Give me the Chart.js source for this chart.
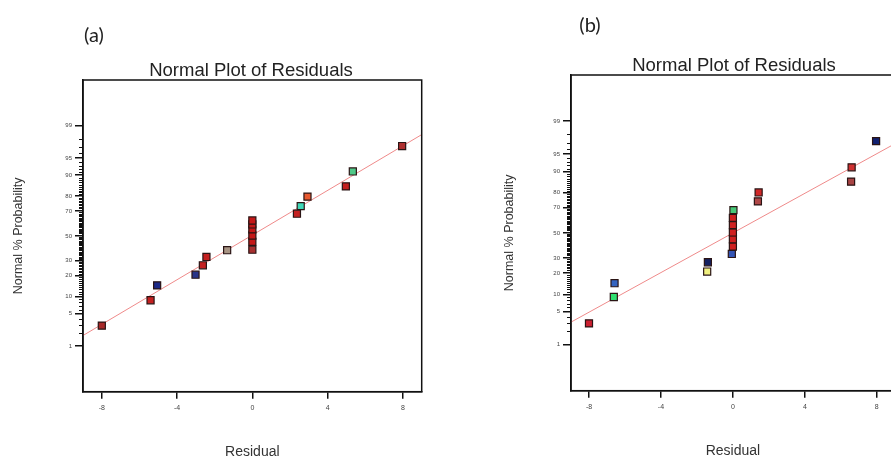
<!DOCTYPE html>
<html>
<head>
<meta charset="utf-8">
<script src="https://cdn.jsdelivr.net/npm/chart.js@4.4.1/dist/chart.umd.min.js"></script>
<style>
html, body { margin: 0; padding: 0; background: #fff; }
#page { position: relative; width: 891px; height: 459px; overflow: hidden; background: #fff; }
canvas { position: absolute; top: 0; }
#cA { left: 0; }
#cB { left: 450px; }
.lbl { position: absolute; transform: translate(-50%, -50%); white-space: nowrap; color: #222; }
.panel { font-family: Lato, 'Liberation Sans', sans-serif; font-size: 20px; }
.ttl { font-family: 'Liberation Sans', Arial, sans-serif; font-size: 18.5px; }
</style>
</head>
<body>
<div id="page">
  <canvas id="cA" width="445" height="459"></canvas>
  <canvas id="cB" width="451" height="459"></canvas>
  <div class="lbl panel" style="left:94px;top:34px">(a)</div>
  <div class="lbl ttl" style="left:251px;top:70px">Normal Plot of Residuals</div>
  <div class="lbl panel" style="left:590px;top:24px">(b)</div>
  <div class="lbl ttl" style="left:734px;top:65px">Normal Plot of Residuals</div>
</div>
<script>
// axis ticks
const xTicks = [-8, -4, 0, 4, 8];
const probTicks = [1, 5, 10, 20, 30, 50, 70, 80, 90, 95, 99];

// panel (a): residuals and normal % probability
const residA = [-8.0, -5.41, -5.06, -3.02, -2.63, -2.44, -1.34, 0, 0, 0, 0, 0, 0, 2.37, 2.57, 2.93, 4.97, 5.34, 7.96];
const probA = [2.9, 8.7, 14.8, 20.6, 26.7, 32.8, 38.1, 38.5, 45.0, 50.3, 55.5, 59.5, 62.7, 68.0, 73.5, 79.6, 85.2, 91.3, 97.1];
const fitXA = [-9, 9];
const fitPA = [1.77, 98.37];

// panel (b)
const residB = [-8.0, -6.62, -6.58, -1.43, -1.39, -0.06, 0, 0, 0, 0, 0, 0.03, 1.39, 1.43, 6.57, 6.6, 7.96];
const probB = [2.96, 9.06, 14.7, 21.0, 27.0, 33.0, 38.8, 44.7, 50.3, 56.4, 62.3, 68.2, 74.4, 80.0, 85.7, 91.4, 97.2];
const fitXB = [-9, 9];
const fitPB = [3.14, 96.83];

// point colours (run colouring)
const colorA = ['#a82828', '#c42020', '#1c2a88', '#2a3488', '#c42020', '#c42020', '#a89484', '#a83030', '#c41818',
  '#c41818', '#c41818', '#c41818', '#c41818', '#c42020', '#40d8b8', '#e85a30', '#c42020', '#50c888', '#b03030'];
const colorB = ['#cc2030', '#30e070', '#3464c0', '#f0f080', '#142060', '#3454b4', '#d02020', '#d02020', '#d02020',
  '#d02020', '#d02020', '#48c878', '#b04848', '#d02828', '#a84444', '#d03030', '#102070'];

// inverse normal cdf (Acklam)
function probit(p) {
  const a = [-3.969683028665376e+01, 2.209460984245205e+02, -2.759285104469687e+02, 1.383577518672690e+02, -3.066479806614716e+01, 2.506628277459239e+00];
  const b = [-5.447609879822406e+01, 1.615858368580409e+02, -1.556989798598866e+02, 6.680131188771972e+01, -1.328068155288572e+01];
  const c = [-7.784894002430293e-03, -3.223964580411365e-01, -2.400758277161838e+00, -2.549732539343734e+00, 4.374664141464968e+00, 2.938163982698783e+00];
  const d = [7.784695709041462e-03, 3.224671290700398e-01, 2.445134137142996e+00, 3.754408661907416e+00];
  const pl = 0.02425;
  let q, r;
  if (p < pl) {
    q = Math.sqrt(-2 * Math.log(p));
    return (((((c[0] * q + c[1]) * q + c[2]) * q + c[3]) * q + c[4]) * q + c[5]) / ((((d[0] * q + d[1]) * q + d[2]) * q + d[3]) * q + 1);
  }
  if (p > 1 - pl) {
    q = Math.sqrt(-2 * Math.log(1 - p));
    return -(((((c[0] * q + c[1]) * q + c[2]) * q + c[3]) * q + c[4]) * q + c[5]) / ((((d[0] * q + d[1]) * q + d[2]) * q + d[3]) * q + 1);
  }
  q = p - 0.5; r = q * q;
  return (((((a[0] * r + a[1]) * r + a[2]) * r + a[3]) * r + a[4]) * r + a[5]) * q / (((((b[0] * r + b[1]) * r + b[2]) * r + b[3]) * r + b[4]) * r + 1);
}

// box round the plot area
const frame = {
  id: 'frame',
  afterDraw(chart) {
    const { ctx, chartArea: a } = chart;
    ctx.save();
    ctx.strokeStyle = '#111';
    ctx.lineWidth = 1.5;
    ctx.strokeRect(a.left, a.top, a.right - a.left, a.bottom - a.top);
    ctx.restore();
  }
};

// small ticks at every whole percent
const minorTicks = {
  id: 'minorTicks',
  afterDraw(chart) {
    const { ctx, chartArea: a } = chart;
    const ys = chart.scales.y;
    ctx.save();
    ctx.strokeStyle = '#111';
    ctx.lineWidth = 1;
    for (let p = 1; p < 100; p++) {
      if (probTicks.includes(p)) continue;
      const y = Math.round(ys.getPixelForValue(probit(p / 100))) + 0.5;
      ctx.beginPath();
      ctx.moveTo(a.left - 4, y);
      ctx.lineTo(a.left, y);
      ctx.stroke();
    }
    ctx.restore();
  }
};

function makePanel(id, resid, prob, colors, fitX, fitP, box) {
  const pts = resid.map((x, i) => ({ x: x, y: probit(prob[i] / 100) }));
  const line = fitX.map((x, i) => ({ x: x, y: probit(fitP[i] / 100) }));
  return new Chart(document.getElementById(id), {
    type: 'scatter',
    data: {
      datasets: [
        { type: 'line', data: line, borderColor: '#ef8a8a', borderWidth: 1, pointRadius: 0, fill: false, order: 2 },
        { data: pts, pointStyle: 'rect', pointRadius: 5, pointBackgroundColor: colors,
          pointBorderColor: '#2a1414', pointBorderWidth: 1.2, order: 1 }
      ]
    },
    options: {
      responsive: false,
      animation: false,
      devicePixelRatio: 1,
      layout: { padding: { left: box.padLeft, top: box.top, right: box.padRight, bottom: 0 } },
      plugins: { legend: { display: false }, tooltip: { enabled: false } },
      scales: {
        x: {
          type: 'linear', min: -9, max: 9,
          afterBuildTicks: s => { s.ticks = xTicks.map(v => ({ value: v })); },
          afterFit: s => { s.height = box.xAxisH; },
          grid: { drawOnChartArea: false, tickLength: 7, color: '#111', lineWidth: 1.5 },
          border: { color: '#111', width: 1.5 },
          ticks: { autoSkip: false, maxRotation: 0, font: { size: 7, family: 'Liberation Sans' }, color: '#444', padding: 5,
            callback: v => String(v) },
          title: { display: true, text: 'Residual', color: '#333',
            font: { size: 14, family: 'Liberation Sans', lineHeight: 1 }, padding: { top: 0, bottom: box.xTitlePad } }
        },
        y: {
          type: 'linear', min: -3.29, max: 3.29,
          afterBuildTicks: s => { s.ticks = probTicks.map(p => ({ value: probit(p / 100) })); },
          afterFit: s => { s.width = box.yAxisW; },
          grid: { drawOnChartArea: false, tickLength: 8, color: '#111', lineWidth: 1.5 },
          border: { color: '#111', width: 1.5 },
          ticks: { autoSkip: false, font: { size: 6, family: 'Liberation Sans' }, color: '#444', padding: 3,
            callback: (v, i) => String(probTicks[i]) },
          title: { display: true, text: 'Normal % Probability', color: '#333',
            font: { size: 12.5, family: 'Liberation Sans' }, padding: { top: 11.5, bottom: 0 } }
        }
      }
    },
    plugins: [frame, minorTicks]
  });
}

makePanel('cA', residA, probA, colorA, fitXA, fitPA, { padLeft: 0, padRight: 23.3, top: 80, yAxisW: 83, xAxisH: 67.3, xTitlePad: 0 });
makePanel('cB', residB, probB, colorB, fitXB, fitPB, { padLeft: 41, padRight: 0, top: 75, yAxisW: 80, xAxisH: 68.3, xTitlePad: 1 });
</script>
</body>
</html>
